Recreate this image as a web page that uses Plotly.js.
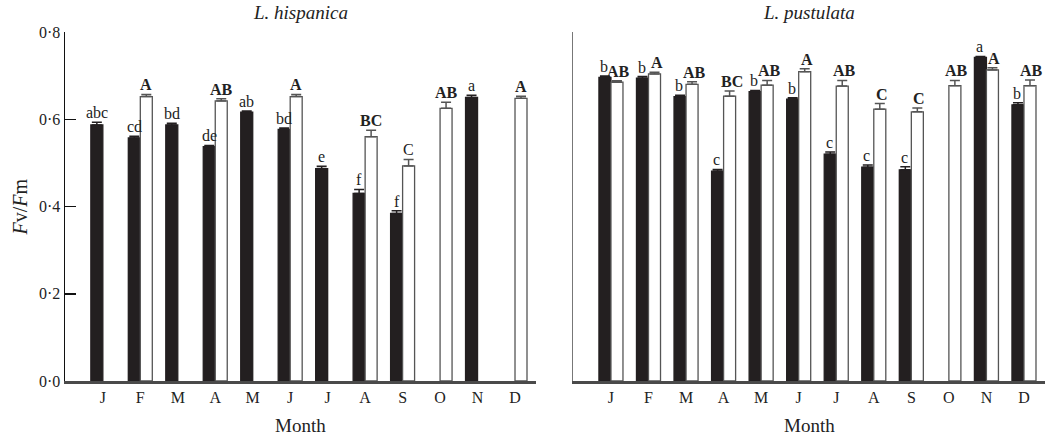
<!DOCTYPE html>
<html><head><meta charset="utf-8">
<script src="https://cdn.plot.ly/plotly-3.0.1.min.js"></script>
<style>html,body{margin:0;padding:0;background:#fff;}</style>
</head><body>
<div id="chart" style="width:1045px;height:438px;"></div>
<script>
const months = ['J','F','M','A','M','J','J','A','S','O','N','D'];
const yTickVals = [0, 0.2, 0.4, 0.6, 0.8];
const yTickText = ['0·0','0·2','0·4','0·6','0·8'];

// L. hispanica
const hispBlack    = [0.587, 0.557, 0.587, 0.537, 0.616, 0.577, 0.487, 0.430, 0.384, null, 0.650, null];
const hispBlackErr = [0.006, 0.004, 0.004, 0.003, 0.003, 0.003, 0.005, 0.009, 0.006, 0, 0.005, 0];
const hispBlackLbl = ['abc','cd','bd','de','ab','bd','e','f','f','','a',''];
const hispWhite    = [null, 0.652, null, 0.642, null, 0.652, null, 0.560, 0.493, 0.625, null, 0.648];
const hispWhiteErr = [0, 0.005, 0, 0.005, 0, 0.005, 0, 0.015, 0.015, 0.014, 0, 0.005];
const hispWhiteLbl = ['','<b>A</b>','','<b>AB</b>','','<b>A</b>','','<b>BC</b>','C','<b>AB</b>','','<b>A</b>'];

// L. pustulata
const pustBlack    = [0.696, 0.694, 0.652, 0.481, 0.663, 0.646, 0.520, 0.490, 0.484, null, 0.742, 0.633];
const pustBlackErr = [0.003, 0.004, 0.003, 0.004, 0.003, 0.003, 0.005, 0.005, 0.007, 0, 0.002, 0.005];
const pustBlackLbl = ['b','b','b','c','b','b','c','c','c','','a','b'];
const pustWhite    = [0.685, 0.704, 0.680, 0.653, 0.678, 0.709, 0.676, 0.623, 0.617, 0.677, 0.713, 0.677];
const pustWhiteErr = [0.003, 0.004, 0.006, 0.012, 0.011, 0.007, 0.013, 0.013, 0.009, 0.012, 0.005, 0.013];
const pustWhiteLbl = ['<b>AB</b>','<b>A</b>','<b>AB</b>','<b>BC</b>','<b>AB</b>','<b>A</b>','<b>AB</b>','<b>C</b>','<b>C</b>','<b>AB</b>','<b>A</b>','<b>AB</b>'];

const idx = months.map((m, i) => i);
const serif = 'Liberation Serif, Times New Roman, serif';

function barTrace(vals, errs, fill, line, xa, ya) {
  return {
    type: 'bar', x: idx, y: vals, xaxis: xa, yaxis: ya,
    marker: {color: fill, line: {color: line, width: 1.3}},
    error_y: {type: 'data', symmetric: false, array: errs, arrayminus: errs.map(() => 0),
              color: line, thickness: 1.5, width: 5},
    showlegend: false, hoverinfo: 'skip'
  };
}

const data = [
  barTrace(hispBlack, hispBlackErr, '#231f20', '#231f20', 'x', 'y'),
  barTrace(hispWhite, hispWhiteErr, '#ffffff', '#555555', 'x', 'y'),
  barTrace(pustBlack, pustBlackErr, '#231f20', '#231f20', 'x2', 'y2'),
  barTrace(pustWhite, pustWhiteErr, '#ffffff', '#555555', 'x2', 'y2')
];

const annotations = [];
function addLabels(vals, errs, lbls, xa, ya, shift, ysh) {
  vals.forEach((v, i) => {
    if (v === null || !lbls[i]) return;
    annotations.push({
      x: i, y: v + errs[i], xref: xa, yref: ya, text: lbls[i],
      showarrow: false, xanchor: 'center', yanchor: 'bottom', xshift: shift, yshift: ysh,
      font: {family: serif, size: 16, color: '#222'}
    });
  });
}
addLabels(hispBlack, hispBlackErr, hispBlackLbl, 'x', 'y', -6, -1);
addLabels(hispWhite, hispWhiteErr, hispWhiteLbl, 'x', 'y', 6, -1);
addLabels(pustBlack, pustBlackErr, pustBlackLbl, 'x2', 'y2', -7, -1);
addLabels(pustWhite, pustWhiteErr, pustWhiteLbl, 'x2', 'y2', 8, -1);

const d1 = [0, 0.4806], d2 = [0.5184, 1];
annotations.push(
  {xref: 'paper', yref: 'paper', x: (d1[0]+d1[1])/2, y: 1.057, text: '<i>L. hispanica</i>', showarrow: false,
   xanchor: 'center', yanchor: 'middle', font: {family: serif, size: 19, color: '#222'}},
  {xref: 'paper', yref: 'paper', x: (d2[0]+d2[1])/2, y: 1.057, text: '<i>L. pustulata</i>', showarrow: false,
   xanchor: 'center', yanchor: 'middle', font: {family: serif, size: 19, color: '#222'}},
  {xref: 'paper', yref: 'paper', x: (d1[0]+d1[1])/2, y: -0.128, text: 'Month', showarrow: false,
   xanchor: 'center', yanchor: 'middle', font: {family: serif, size: 19, color: '#222'}},
  {xref: 'paper', yref: 'paper', x: (d2[0]+d2[1])/2, y: -0.128, text: 'Month', showarrow: false,
   xanchor: 'center', yanchor: 'middle', font: {family: serif, size: 19, color: '#222'}},
  {xref: 'paper', yref: 'paper', x: -0.046, y: 0.5, text: '<i>F</i>v/<i>F</i>m', showarrow: false,
   textangle: -90, xanchor: 'center', yanchor: 'middle', font: {family: serif, size: 20, color: '#222'}}
);

const xCommon = {
  type: 'linear', range: [-1.01, 11.56], tickvals: idx, ticktext: months,
  showline: true, linecolor: '#4a4a4a', linewidth: 2.5, ticks: '', showgrid: false, zeroline: false,
  tickfont: {family: serif, size: 16, color: '#222'}, fixedrange: true
};

const layout = {
  width: 1045, height: 438,
  margin: {l: 65, r: 0, t: 32, b: 57},
  paper_bgcolor: '#ffffff', plot_bgcolor: '#ffffff',
  barmode: 'group', bargap: 0.36, bargroupgap: 0,
  font: {family: serif, color: '#222'},
  xaxis: Object.assign({}, xCommon, {domain: d1, anchor: 'y'}),
  xaxis2: Object.assign({}, xCommon, {domain: d2, anchor: 'y2'}),
  yaxis: {
    range: [0, 0.8], tickvals: yTickVals, ticktext: yTickText, ticks: 'inside', ticklen: 11, tickwidth: 1.5,
    tickcolor: '#111', showline: true, linecolor: '#111', linewidth: 1.5, showgrid: false, zeroline: false,
    tickfont: {family: serif, size: 16, color: '#222'}, anchor: 'x'
  },
  yaxis2: {
    range: [0, 0.8], showticklabels: false, ticks: '', showline: true, linecolor: '#777', linewidth: 1.5,
    showgrid: false, zeroline: false, anchor: 'x2'
  },
  annotations: annotations
};

Plotly.newPlot('chart', data, layout, {staticPlot: true, displayModeBar: false});
</script>
</body></html>
